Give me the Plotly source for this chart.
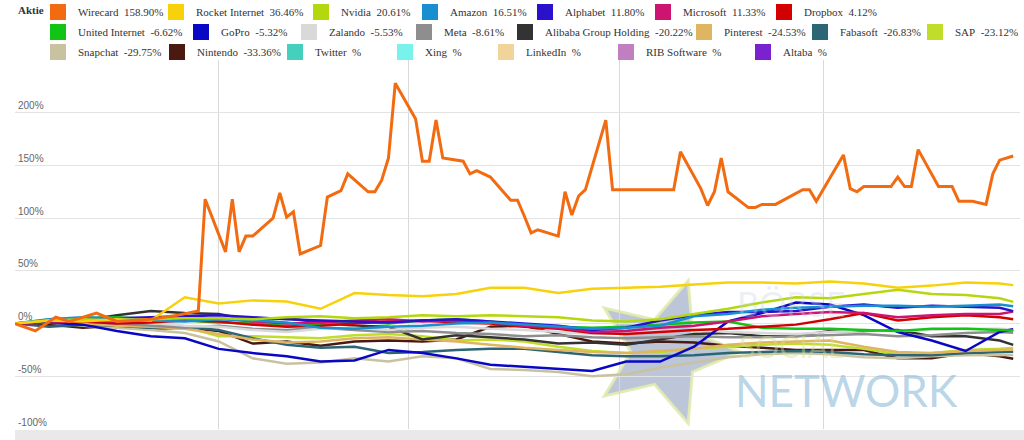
import math
import plotly.graph_objects as go

# Wirecard jumps around a lot, so it keeps its own dates; the others share one grid
wirecard_dates = [
    "2023-01-02", "2023-01-05", "2023-01-08", "2023-01-10", "2023-01-14", "2023-01-17", "2023-01-22",
    "2023-01-26", "2023-01-29", "2023-01-30",
    "2023-02-02", "2023-02-03", "2023-02-04", "2023-02-05", "2023-02-06", "2023-02-09", "2023-02-10",
    "2023-02-11", "2023-02-12", "2023-02-13", "2023-02-16", "2023-02-17", "2023-02-19", "2023-02-20",
    "2023-02-23", "2023-02-24", "2023-02-25", "2023-02-26", "2023-02-27",
    "2023-03-02", "2023-03-03", "2023-03-04", "2023-03-05", "2023-03-06", "2023-03-09", "2023-03-10",
    "2023-03-11", "2023-03-13", "2023-03-16", "2023-03-17", "2023-03-18", "2023-03-19", "2023-03-20",
    "2023-03-23", "2023-03-24", "2023-03-25", "2023-03-26", "2023-03-27", "2023-03-30", "2023-03-31",
    "2023-04-09", "2023-04-10", "2023-04-13", "2023-04-14", "2023-04-15", "2023-04-16", "2023-04-17",
    "2023-04-20", "2023-04-21", "2023-04-22", "2023-04-24", "2023-04-28", "2023-04-29", "2023-04-30",
    "2023-05-04", "2023-05-05", "2023-05-06", "2023-05-07", "2023-05-11", "2023-05-12", "2023-05-13",
    "2023-05-14", "2023-05-15", "2023-05-18", "2023-05-20", "2023-05-21", "2023-05-23", "2023-05-25",
    "2023-05-26", "2023-05-27", "2023-05-29",
]
wirecard = [
    0, -7, 6, 2, 10, 2, 4, 8, 12, 118,
    68, 118, 68, 83, 83, 100, 124, 101, 106, 66, 74, 120, 126, 142, 125, 125, 136, 157, 228,
    194, 154, 154, 193, 157, 154, 142, 145, 139, 117, 117, 102, 86, 89, 83, 125, 103, 121, 127, 193, 127,
    127, 163, 128, 112, 125, 157, 125, 110, 110, 113, 113, 127, 127, 116,
    160, 128, 125, 130, 130, 139, 130, 130, 165, 130, 130, 116, 116, 113, 142, 155, 158.90,
]

dates = [
    "2023-01-02", "2023-01-07", "2023-01-12", "2023-01-17", "2023-01-22", "2023-01-27",
    "2023-02-01", "2023-02-06", "2023-02-11", "2023-02-16", "2023-02-21", "2023-02-26",
    "2023-03-03", "2023-03-08", "2023-03-13", "2023-03-18", "2023-03-23", "2023-03-28",
    "2023-04-02", "2023-04-07", "2023-04-12", "2023-04-17", "2023-04-22", "2023-04-27",
    "2023-05-02", "2023-05-07", "2023-05-12", "2023-05-17", "2023-05-22", "2023-05-27", "2023-05-29",
]
rocket = [0, 3, 2, 4, 3, 25, 19, 22, 21, 14, 29, 27, 26, 28, 34, 34, 29, 33, 34, 35, 37, 39, 39, 38, 40, 38, 34, 36, 39, 38, 36.46]
nvidia = [0, 3, 4, 3, 4, 5, 5, 4, 6, 7, 5, 6, 8, 7, 8, 7, 6, 3, 2, 4, 9, 14, 20, 25, 24, 28, 32, 28, 27, 24, 20.61]
amazon = [0, 4, 6, 5, 3, 2, 4, 3, 1, -4, -5, -3, -2, 0, 1, -1, -3, -5, -4, -2, 7, 9, 13, 15, 16, 17, 17, 16, 17, 18, 16.51]
alphabet = [0, 2, 4, 5, 6, 7, 8, 6, 4, 3, 2, 1, 3, 4, 2, 0, -2, -6, -4, 3, 8, 11, 11, 12, 16, 18, 15, 17, 16, 15, 11.80]
microsoft = [0, 1, 3, 2, 3, 4, 5, 2, 0, 1, 3, 4, 2, 3, 1, -2, -4, -8, -7, -4, -2, 2, 7, 9, 11, 10, 6, 8, 9, 9, 11.33]
dropbox = [0, 1, 2, 0, 1, 3, 2, -1, -3, -2, 0, 2, 3, 1, 0, -3, -5, -9, -10, -8, -6, -5, -3, -1, 4, 10, 3, 6, 8, 6, 4.12]
united = [0, 3, 5, 6, 4, 3, 1, 0, -2, -1, 2, 0, 3, 4, 2, -2, -3, -4, -3, -1, 1, 2, -4, -5, -5, -6, -7, -5, -5, -6, -6.62]
gopro = [0, 1, -1, -7, -12, -14, -24, -28, -31, -36, -35, -25, -28, -33, -39, -41, -43, -45, -36, -36, -22, 2, 10, 20, 18, 8, -8, -16, -26, -8, -5.32]
zalando = [0, 2, 4, 3, 1, -2, -3, -6, -8, -5, -4, -6, -4, -3, -5, -6, -8, -10, -9, -7, -6, -8, -9, -10, -8, -6, -7, -6, -5, -5, -5.53]
meta = [0, 1, 2, 0, -2, -4, -2, -5, -6, -4, -6, -8, -7, -9, -10, -12, -11, -13, -14, -13, -12, -13, -13, -12, -11, -10, -12, -11, -9, -8, -8.61]
alibaba = [0, 2, 3, 8, 12, 10, 9, 3, 5, 1, -2, -3, -15, -11, -13, -15, -19, -18, -20, -15, -10, -9, -12, -12, -7, -7, -6, -12, -12, -16, -20.22]
pinterest = [0, 2, 0, -2, -3, -5, -10, -15, -18, -17, -14, -13, -15, -17, -20, -23, -25, -27, -28, -26, -24, -20, -18, -17, -16, -22, -27, -28, -26, -25, -24.53]
fabasoft = [0, -3, -1, -2, -4, -3, -6, -14, -20, -23, -22, -28, -27, -25, -24, -24, -27, -30, -31, -31, -30, -28, -27, -26, -27, -29, -30, -30, -28, -27, -26.83]
sap = [0, 4, 5, 2, 1, -3, -12, -12, -13, -14, -11, -10, -12, -16, -15, -17, -22, -26, -28, -27, -24, -22, -20, -19, -20, -24, -29, -28, -25, -24, -23.12]
snapchat = [0, 1, -2, -4, -6, -9, -17, -33, -38, -37, -33, -36, -31, -33, -43, -44, -46, -50, -48, -42, -37, -32, -29, -28, -29, -32, -33, -31, -30, -30, -29.75]
nintendo = [0, -1, -4, -2, -5, -4, -7, -19, -17, -21, -17, -16, -17, -15, -3, -2, -10, -17, -19, -17, -18, -21, -23, -25, -25, -25, -33, -33, -28, -31, -33.36]

names = ["Wirecard", "Rocket Internet", "Nvidia", "Amazon", "Alphabet", "Microsoft", "Dropbox",
         "United Internet", "GoPro", "Zalando", "Meta", "Alibaba Group Holding", "Pinterest", "Fabasoft", "SAP",
         "Snapchat", "Nintendo", "Twitter", "Xing", "LinkedIn", "RIB Software", "Altaba"]
perf = ["158.90", "36.46", "20.61", "16.51", "11.80", "11.33", "4.12",
        "-6.62", "-5.32", "-5.53", "-8.61", "-20.22", "-24.53", "-26.83", "-23.12",
        "-29.75", "-33.36", "", "", "", "", ""]
colors = ["#f26b10", "#f7d20a", "#b4d80e", "#1a8fd0", "#2a12cc", "#cc1470", "#d20000",
          "#12c416", "#0808c4", "#d9d9d9", "#8e8e8e", "#333333", "#e0b562", "#2c6674", "#bfdd2a",
          "#c9c2a0", "#4a1a12", "#45cfbd", "#7af2ec", "#f0d49a", "#c080c0", "#7a22d0"]

series = {
    "Rocket Internet": rocket, "Nvidia": nvidia, "Amazon": amazon, "Alphabet": alphabet,
    "Microsoft": microsoft, "Dropbox": dropbox, "United Internet": united, "GoPro": gopro,
    "Zalando": zalando, "Meta": meta, "Alibaba Group Holding": alibaba, "Pinterest": pinterest,
    "Fabasoft": fabasoft, "SAP": sap, "Snapchat": snapchat, "Nintendo": nintendo,
}

# where each legend square sits (px from left), three rows
legend_rows = [
    (10, [52, 170, 315, 424, 539, 657, 778]),
    (30, [52, 195, 303, 418, 519, 698, 814, 929]),
    (50, [52, 171, 289, 399, 500, 620, 757]),
]

W, H = 1024, 440
ML, MR, MT, MB = 15, 4, 60, 11
PW, PH = W - ML - MR, H - MT - MB


def px(x, y):
    return (x - ML) / PW, (H - MB - y) / PH


fig = go.Figure()

# lines, drawn last-first so Wirecard ends up on top
for name in reversed(names):
    c = colors[names.index(name)]
    if name == "Wirecard":
        fig.add_trace(go.Scatter(x=wirecard_dates, y=wirecard, mode="lines",
                                 line=dict(color=c, width=3), showlegend=False))
    elif name in series:
        fig.add_trace(go.Scatter(x=dates, y=series[name], mode="lines",
                                 line=dict(color=c, width=2.5), showlegend=False))

# one little legend per entry so they land where the original has them
legends = {}
k = 0
for row_y, xs in legend_rows:
    for sx in xs:
        key = "legend" if k == 0 else f"legend{k + 1}"
        fig.add_trace(go.Scatter(
            x=[None], y=[None], mode="markers",
            marker=dict(symbol="square", size=16, color=colors[k]),
            name=f"{names[k]}\u00a0 {perf[k]}%", legend=key))
        legends[key] = dict(
            x=(sx - 14) / W, y=1 - (row_y + 2) / H, xref="container", yref="container",
            xanchor="left", yanchor="middle", orientation="h", bgcolor="rgba(0,0,0,0)",
            borderwidth=0, font=dict(family="Liberation Serif", size=11, color="#333333"))
        k += 1

# watermark star (Börse Social Network logo)
cx, cy, ro, ri = 665, 352, 75, 34
pts = []
for i in range(10):
    r = ro if i % 2 == 0 else ri
    a = math.radians(36 * i)
    pts.append(px(cx + r * math.cos(a), cy + r * math.sin(a)))
star = "M " + " L ".join(f"{a:.4f},{b:.4f}" for a, b in pts) + " Z"

shapes = [
    dict(type="path", path=star, xref="paper", yref="paper", layer="below",
         fillcolor="rgba(160,174,200,0.7)", line=dict(color="rgba(225,235,175,0.9)", width=3)),
    dict(type="rect", xref="paper", yref="paper", x0=0, x1=1.004, y0=px(0, 440)[1], y1=px(0, 430)[1],
         fillcolor="#e9e9e9", line=dict(width=0), layer="below"),
]

annotations = [
    dict(text="<b>Aktie</b>", xref="paper", yref="paper", x=px(16, 0)[0], y=px(0, 10)[1],
         xanchor="left", yanchor="middle", showarrow=False,
         font=dict(family="Liberation Serif", size=11, color="#333333")),
    dict(text="BÖRSE", xref="paper", yref="paper", x=px(735, 0)[0], y=px(0, 303)[1],
         xanchor="left", yanchor="middle", showarrow=False,
         font=dict(family="Lato", size=34, color="rgba(200,212,228,0.35)")),
    dict(text="SOCIAL", xref="paper", yref="paper", x=px(737, 0)[0], y=px(0, 346)[1],
         xanchor="left", yanchor="middle", showarrow=False,
         font=dict(family="Lato", size=30, color="rgba(215,225,140,0.45)")),
    dict(text="NETWORK", xref="paper", yref="paper", x=px(733, 0)[0], y=px(0, 390)[1],
         xanchor="left", yanchor="middle", showarrow=False,
         font=dict(family="Lato", size=44, color="rgba(140,186,216,0.6)")),
]

fig.update_layout(
    width=W, height=H, margin=dict(l=ML, r=MR, t=MT, b=MB, autoexpand=False),
    paper_bgcolor="white", plot_bgcolor="white",
    shapes=shapes, annotations=annotations, **legends,
)
fig.update_xaxes(type="date", range=["2023-01-02", "2023-05-30"], tick0="2023-01-01", dtick="M1",
                 showgrid=True, gridcolor="#d9d9d9", gridwidth=1, showticklabels=False,
                 zeroline=False, showline=False, ticks="")
fig.update_yaxes(range=[-100, 250], tickvals=[-100, -50, 0, 50, 100, 150, 200, 250],
                 ticktext=["-100%", "-50%", "0%", "50%", "100%", "150%", "200%", ""],
                 ticklabelposition="inside top", tickfont=dict(family="Liberation Sans", size=10, color="#666666"),
                 showgrid=True, gridcolor="#e3e3e3", gridwidth=1, zeroline=False, showline=False, ticks="")

# the page's default body margin would push the chart 8px off; drop it
fig.write_html("out.html", config={"displayModeBar": False},
               post_script="document.body.style.margin='0px';")
